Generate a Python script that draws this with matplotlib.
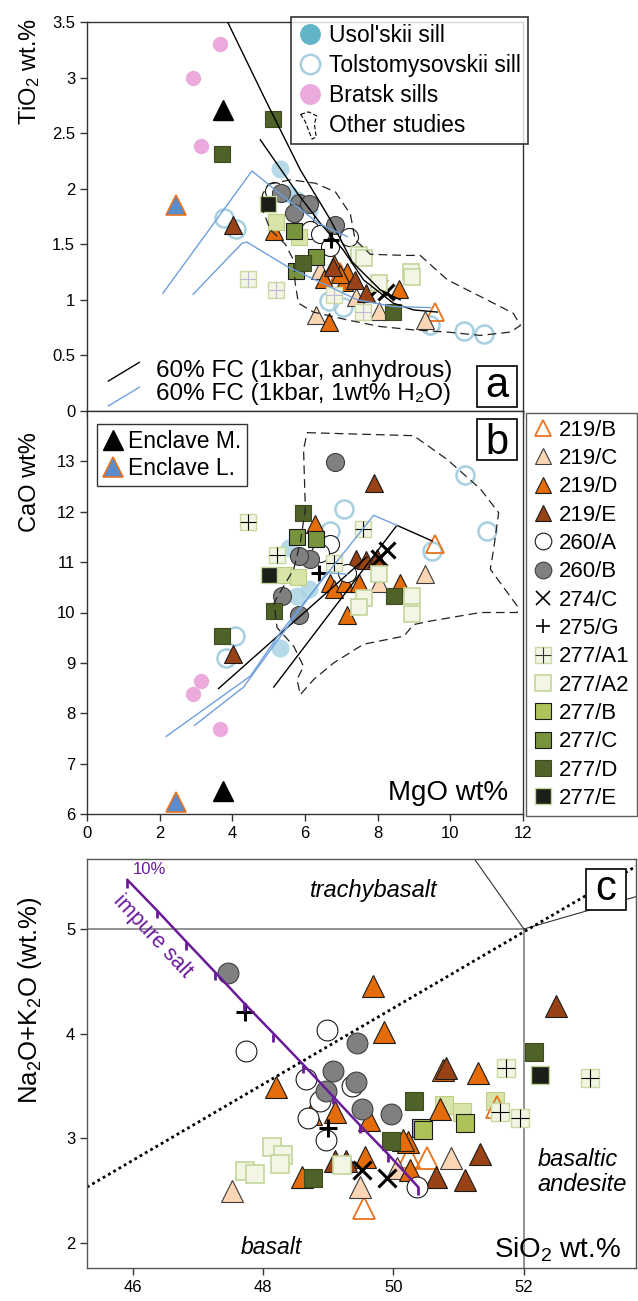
import numpy as np
import matplotlib
matplotlib.use("Agg")
import matplotlib.pyplot as plt
import matplotlib.patches as mpatches
from matplotlib.lines import Line2D
from matplotlib.legend_handler import HandlerPatch

plt.rcParams['font.family'] = ['Liberation Sans', 'DejaVu Sans']
plt.rcParams['mathtext.fontset'] = 'custom'
plt.rcParams['mathtext.rm'] = 'Liberation Sans'
plt.rcParams['mathtext.it'] = 'Liberation Sans:italic'
plt.rcParams['mathtext.default'] = 'regular'

# ---------------- panel a: MgO vs TiO2 ----------------
a_219B = [[9.59, 6.95], [0.89, 1.25]]
a_219C = [[6.40, 7.39, 8.05, 6.30, 9.29], [1.27, 1.03, 0.90, 0.86, 0.82]]
a_219D = [[5.16, 6.79, 6.51, 7.15, 7.06, 8.60, 6.65, 6.97], [1.62, 1.32, 1.19, 1.25, 1.16, 1.10, 0.80, 1.23]]
a_219E = [[4.01, 6.78, 7.37, 7.69], [1.67, 1.30, 1.18, 1.06]]
a_260A = [[5.15, 6.00, 6.15, 6.42, 6.70, 7.20], [1.98, 1.75, 1.63, 1.59, 1.48, 1.57]]
a_260B = [[5.35, 5.83, 6.10, 5.69, 6.82], [1.96, 1.87, 1.86, 1.78, 1.67]]
a_274C = [[8.03, 8.24], [1.12, 1.07]]
a_275G = [[6.72], [1.54]]
a_277A1 = [[4.43, 5.21, 6.79, 7.60], [1.19, 1.09, 1.04, 0.89]]
a_277A2 = [[7.50, 7.62, 8.05, 8.93, 8.95], [1.40, 1.38, 1.15, 1.25, 1.21]]
a_277B = [[5.19, 5.83], [1.70, 1.57]]
a_277C = [[5.71, 6.30, 5.75], [1.62, 1.39, 1.26]]
a_277D = [[5.11, 3.72, 5.95, 8.42], [2.63, 2.31, 1.33, 0.89]]
a_277E = [[4.98], [1.86]]
a_usol = [[5.30, 5.55, 5.78, 6.10], [2.18, 1.95, 1.90, 1.80]]
a_tolst = [[3.76, 4.11, 6.65, 7.05, 9.45, 10.37, 10.94], [1.74, 1.64, 0.99, 0.94, 0.77, 0.72, 0.69]]
a_bratsk = [[3.67, 2.93, 3.15], [3.30, 3.00, 2.38]]
a_encM = [[3.73], [2.71]]
a_encL = [[2.45], [1.85]]

a_fc_dry1 = [[3.84, 4.91, 5.87, 6.70, 7.30, 8.07, 8.62], [3.52, 2.80, 2.17, 1.72, 1.34, 1.09, 1.00]]
a_fc_dry2 = [[4.77, 5.79, 6.42, 7.05, 7.61, 8.43, 8.98, 9.64], [2.44, 1.96, 1.69, 1.45, 1.18, 0.97, 0.91, 0.89]]
a_fc_wet1 = [[2.09, 4.54, 5.40, 6.42, 7.16], [1.06, 2.16, 1.93, 1.68, 1.57]]
a_fc_wet2 = [[2.92, 4.27, 4.40, 5.51, 7.44, 8.43, 9.45], [1.05, 1.51, 1.52, 1.30, 1.00, 0.94, 0.93]]
a_other = [[5.00, 5.60, 6.28, 6.84, 7.25, 7.38, 7.80, 8.76, 9.17, 9.92, 10.83, 11.73, 11.93, 11.65,
            10.83, 9.92, 8.98, 8.07, 7.16, 6.23, 5.82, 5.73, 5.68, 5.46, 5.05, 4.83, 4.83, 5.00],
           [2.04, 2.08, 2.05, 1.97, 1.77, 1.54, 1.41, 1.40, 1.40, 1.18, 1.03, 0.88, 0.77, 0.71,
            0.68, 0.71, 0.73, 0.76, 0.82, 0.89, 0.97, 1.15, 1.36, 1.50, 1.63, 1.81, 1.95, 2.04]]

# ---------------- panel b: MgO vs CaO ----------------
b_219B = [[9.59], [11.35]]
b_219C = [[9.31, 8.03], [10.76, 10.59]]
b_219D = [[6.28, 6.70, 6.81, 7.11, 7.48, 7.16, 8.62], [11.75, 10.59, 10.46, 10.59, 10.59, 9.96, 10.59]]
b_219E = [[7.89, 7.41, 7.69, 7.98, 4.01], [12.58, 11.06, 11.04, 11.09, 9.17]]
b_260A = [[6.70, 6.42, 7.16], [11.35, 11.19, 10.79]]
b_260B = [[6.83, 6.15, 5.83, 5.37, 5.83], [12.99, 11.06, 11.12, 10.33, 9.96]]
b_274C = [[8.26, 8.03], [11.25, 11.09]]
b_275G = [[6.38], [10.79]]
b_277A1 = [[4.43, 7.60, 5.23, 6.79], [11.80, 11.65, 11.14, 10.99]]
b_277A2 = [[8.05, 8.95, 8.95, 7.62, 7.48], [10.76, 10.33, 9.98, 10.29, 10.10]]
b_277B = [[5.46, 5.82], [10.74, 10.71]]
b_277C = [[5.78, 6.31], [11.49, 11.45]]
b_277D = [[5.94, 8.44, 5.14, 3.72], [11.97, 10.33, 10.03, 9.54]]
b_277E = [[5.02], [10.74]]
b_usol = [[5.55, 5.78, 6.10, 5.32], [11.29, 10.33, 10.46, 9.30]]
b_tolst = [[10.41, 7.06, 11.01, 9.50, 6.70, 4.08, 3.83], [12.73, 12.06, 11.62, 11.22, 11.62, 9.53, 9.10]]
b_bratsk = [[3.15, 2.93, 3.67], [8.65, 8.39, 7.69]]
b_encM = [[3.73], [6.45]]
b_encL = [[2.45], [6.23]]

b_fc_dry1 = [[3.62, 7.70], [8.49, 11.10]]
b_fc_dry2 = [[5.14, 8.53, 9.50], [8.52, 11.73, 11.42]]
b_fc_wet1 = [[2.18, 4.50, 5.32, 7.89, 8.53], [7.54, 8.74, 9.60, 11.93, 11.73]]
b_fc_wet2 = [[2.96, 4.31, 6.60, 7.16], [7.76, 8.52, 10.79, 10.76]]
b_other = [[6.06, 8.99, 9.91, 10.83, 11.33, 11.19, 11.10, 11.84, 11.84, 10.83, 9.45, 8.99, 8.72, 7.61,
            6.79, 6.24, 5.87, 5.78, 5.96, 5.69, 5.23, 5.15, 5.69, 5.87, 6.01, 5.96, 6.06],
           [13.57, 13.51, 13.04, 12.45, 11.98, 11.25, 10.86, 10.13, 10.00, 10.00, 9.83, 9.76, 9.53, 9.37,
            9.00, 8.67, 8.37, 8.67, 8.93, 9.33, 9.70, 10.20, 10.86, 11.39, 12.05, 13.24, 13.57]]

# ---------------- panel c: SiO2 vs Na2O+K2O ----------------
c_219B = [[51.59, 50.52, 50.24, 49.55], [3.30, 2.81, 2.82, 2.33]]
c_219C = [[47.52, 49.49, 50.88, 50.05], [2.49, 2.53, 2.81, 2.71]]
c_219D = [[49.69, 49.86, 48.20, 48.73, 49.10, 49.63, 50.71, 51.29, 50.76, 50.23, 50.15, 49.56, 50.25, 48.59],
          [4.45, 4.01, 3.49, 3.23, 3.25, 3.17, 3.28, 3.62, 3.65, 2.96, 2.98, 2.82, 2.69, 2.63]]
c_219E = [[52.49, 51.33, 50.66, 51.09, 49.10, 49.27, 50.80], [4.26, 2.85, 2.63, 2.60, 2.78, 2.78, 3.67]]
c_260A = [[48.98, 47.74, 48.66, 49.36, 48.87, 48.69, 48.97, 50.36], [4.03, 3.83, 3.56, 3.50, 3.35, 3.19, 2.98, 2.53]]
c_260B = [[47.47, 49.44, 49.08, 49.42, 48.97, 49.51, 49.97], [4.58, 3.91, 3.64, 3.54, 3.45, 3.28, 3.23]]
c_274C = [[49.51, 49.90], [2.69, 2.62]]
c_275G = [[47.73, 48.99], [4.21, 3.10]]
c_277A1 = [[51.72, 51.94, 53.02, 51.63], [3.67, 3.19, 3.57, 3.25]]
c_277A2 = [[48.13, 48.30, 48.26, 47.72, 47.88, 49.21], [2.91, 2.84, 2.75, 2.68, 2.66, 2.74]]
c_277B_pale = [[50.78, 51.05, 51.56], [3.32, 3.25, 3.35]]
c_277B = [[50.42, 50.46, 51.10], [3.10, 3.08, 3.14]]
c_277D = [[52.16, 50.32, 49.97, 48.77], [3.82, 3.35, 2.97, 2.62]]
c_277E = [[52.25], [3.60]]

c_mix_sio2 = [45.92, 46.37, 46.82, 47.26, 47.71, 48.16, 48.62, 49.07, 49.49, 49.91, 50.38]
c_mix_alk = [5.47, 5.18, 4.88, 4.59, 4.29, 4.00, 3.70, 3.40, 3.12, 2.85, 2.53]
c_alk_divide = [[45.30, 53.72], [2.53, 5.60]]
tas_basalt_top = [[45.0, 52.0], [5.0, 5.0]]
tas_basalt_right = [[52.0, 52.0], [0.0, 5.0]]
tas_up_left = [[52.0, 49.4], [5.0, 7.3]]
tas_up_right = [[52.0, 57.0], [5.0, 5.9]]

GROUPS = ['219/B', '219/C', '219/D', '219/E', '260/A', '260/B', '274/C', '275/G',
          '277/A1', '277/A2', '277/B', '277/C', '277/D', '277/E']

STYLE = {
    '219/B': dict(marker='^', mfc='none', mec='#e8731f', mew=1.3),
    '219/C': dict(marker='^', mfc='#fcd5b5', mec='#3a3a3a', mew=0.8),
    '219/D': dict(marker='^', mfc='#e46c0a', mec='#1a1a1a', mew=0.8),
    '219/E': dict(marker='^', mfc='#984215', mec='#1a1a1a', mew=0.8),
    '260/A': dict(marker='o', mfc='white', mec='#1a1a1a', mew=0.8),
    '260/B': dict(marker='o', mfc='#808080', mec='#404040', mew=0.8),
    '274/C': dict(marker='x', color='black', mew=2.2),
    '275/G': dict(marker='+', color='black', mew=2.2),
    '277/A1': dict(marker='s', mfc='#f2f5e2', mec='#c9dba2', mew=1.0),
    '277/A2': dict(marker='s', mfc='#f3f6e5', mec='#c3d69b', mew=1.2),
    '277/B': dict(marker='s', mfc='#aec25a', mec='#1a1a1a', mew=0.8),
    '277/C': dict(marker='s', mfc='#77933c', mec='#1a1a1a', mew=0.8),
    '277/D': dict(marker='s', mfc='#4f6228', mec='#3d4b1f', mew=0.8),
    '277/E': dict(marker='s', mfc='#1b1f17', mec='#c3d69b', mew=1.0),
}


def draw_group(ax, key, pts, ms, cross='black', **extra):
    st = dict(STYLE[key])
    st.update(extra)
    size = ms * 0.85 if st['marker'] in ('x', '+') else ms
    if st['marker'] == 's':
        size = ms * 0.9
    ax.plot(pts[0], pts[1], ls='none', ms=size, zorder=3, **st)
    if key == '277/A1':
        ax.plot(pts[0], pts[1], ls='none', marker='+', ms=size, color=cross, mew=0.8, zorder=3)


def draw_sills(ax, usol, tolst, bratsk, ms):
    ax.plot(usol[0], usol[1], ls='none', marker='o', ms=ms, mfc='#a9d4e4', mec='none', alpha=0.85, zorder=2)
    ax.plot(tolst[0], tolst[1], ls='none', marker='o', ms=ms, mfc='none', mec='#a7cfe0', mew=1.8, zorder=3)
    ax.plot(bratsk[0], bratsk[1], ls='none', marker='o', ms=ms * 0.85, mfc='#eba9dc', mec='none', zorder=3)


def draw_enclaves(ax, encM, encL, ms):
    ax.plot(encM[0], encM[1], ls='none', marker='^', ms=ms, color='black', zorder=3)
    ax.plot(encL[0], encL[1], ls='none', marker='^', ms=ms, mfc='#5a8ccc', mec='#e8731f', mew=1.2, zorder=3)


def blob_patch(legend, orig_handle, xdescent, ydescent, width, height, fontsize):
    # irregular dashed outline used as the "Other studies" key
    u = np.array([0.10, 0.45, 0.80, 0.70, 0.78, 0.60, 0.42, 0.30, 0.10])
    v = np.array([1.10, 1.25, 1.00, 0.50, -0.30, -0.45, 0.20, 0.65, 1.10])
    return mpatches.Polygon(np.column_stack([u * width - xdescent, v * height - ydescent]), closed=True)


W, H = 638, 1301
fig = plt.figure(figsize=(W / 100, H / 100), dpi=100)
axa = fig.add_axes([87 / W, 1 - 411 / H, 436 / W, 389 / H])
axb = fig.add_axes([87 / W, 1 - 814 / H, 436 / W, 403 / H])
axc = fig.add_axes([87 / W, 1 - 1268 / H, 549 / W, 409 / H])


def panel_tag(letter, x0, y0, drop):
    # boxed panel letter, box given in figure pixels (top-left corner)
    fig.add_artist(mpatches.Rectangle((x0 / W, 1 - (y0 + 41) / H), 40 / W, 41 / H,
                                      transform=fig.transFigure, fc='white', ec='black', lw=1.2, zorder=2))
    fig.text((x0 + 20) / W, 1 - (y0 + 20.5 + drop) / H, letter, fontsize=30,
             ha='center', va='baseline', zorder=3)


for ax in (axa, axb, axc):
    for s in ax.spines.values():
        s.set_color('#333333')
        s.set_linewidth(1.0)
    ax.tick_params(direction='out', length=5, width=1, colors='#333333', labelcolor='black', labelsize=12)

# ---- panel a
A_DATA = {'219/B': a_219B, '219/C': a_219C, '219/D': a_219D, '219/E': a_219E, '260/A': a_260A,
          '260/B': a_260B, '274/C': a_274C, '275/G': a_275G, '277/A1': a_277A1, '277/A2': a_277A2,
          '277/B': a_277B, '277/C': a_277C, '277/D': a_277D, '277/E': a_277E}
draw_sills(axa, a_usol, a_tolst, a_bratsk, 13)
draw_enclaves(axa, a_encM, a_encL, 14)
for key in GROUPS:
    if key == '277/B':
        draw_group(axa, key, A_DATA[key], 13, mfc='#d8e4a8', mec='#b9cf85')
    else:
        draw_group(axa, key, A_DATA[key], 13, cross='#c4b4d8')
axa.plot(a_other[0], a_other[1], color='#222222', lw=0.9, ls=(0, (7, 4)), zorder=4)
for ln in (a_fc_dry1, a_fc_dry2):
    axa.plot(ln[0], ln[1], color='black', lw=1.0, zorder=5)
for ln in (a_fc_wet1, a_fc_wet2):
    axa.plot(ln[0], ln[1], color='#6fa0dc', lw=1.0, zorder=5)
axa.set_xlim(0, 12)
axa.set_ylim(0, 3.5)
axa.set_xticks(np.arange(0, 13, 2))
axa.set_xticklabels([])
axa.set_yticks(np.arange(0, 3.6, 0.5))
axa.set_yticklabels(['0', '0.5', '1', '1.5', '2', '2.5', '3', '3.5'])

# FC key, bottom-left of panel a
axa.plot([0.049, 0.120], [0.077, 0.125], transform=axa.transAxes, color='black', lw=1.0)
axa.plot([0.049, 0.120], [0.013, 0.061], transform=axa.transAxes, color='#6fa0dc', lw=1.0)
axa.text(0.158, 0.103, '60% FC (1kbar, anhydrous)', transform=axa.transAxes, fontsize=17.5, va='center')
axa.text(0.158, 0.044, '60% FC (1kbar, 1wt% H\u2082O)', transform=axa.transAxes, fontsize=17.5, va='center')

blob = mpatches.Polygon([[0, 0], [1, 0], [1, 1]], fill=False, ec='black', lw=0.8, ls=(0, (4, 2)))
sill_handles = [
    Line2D([], [], ls='none', marker='o', ms=14, mfc='#62b5c9', mec='#62b5c9'),
    Line2D([], [], ls='none', marker='o', ms=14, mfc='white', mec='#a7cfe0', mew=1.8),
    Line2D([], [], ls='none', marker='o', ms=14, mfc='#eba9dc', mec='#eba9dc'),
    blob,
]
leg_a = fig.legend(sill_handles, ["Usol'skii sill", 'Tolstomysovskii sill', 'Bratsk sills', 'Other studies'],
                   loc='upper left', bbox_to_anchor=(291 / W, 1 - 17 / H), fontsize=16.5, frameon=True,
                   fancybox=False, edgecolor='black', handlelength=1.0, handletextpad=0.35,
                   labelspacing=0.3, borderpad=0.32, borderaxespad=0,
                   handler_map={blob: HandlerPatch(patch_func=blob_patch)})
leg_a.get_frame().set_linewidth(1.2)

# ---- panel b
B_DATA = {'219/B': b_219B, '219/C': b_219C, '219/D': b_219D, '219/E': b_219E, '260/A': b_260A,
          '260/B': b_260B, '274/C': b_274C, '275/G': b_275G, '277/A1': b_277A1, '277/A2': b_277A2,
          '277/B': b_277B, '277/C': b_277C, '277/D': b_277D, '277/E': b_277E}
draw_sills(axb, b_usol, b_tolst, b_bratsk, 13)
draw_enclaves(axb, b_encM, b_encL, 14)
for key in GROUPS:
    if key == '277/B':
        draw_group(axb, key, B_DATA[key], 13, mfc='#d8e4a8', mec='#b9cf85')
    else:
        draw_group(axb, key, B_DATA[key], 13)
axb.plot(b_other[0], b_other[1], color='#222222', lw=0.9, ls=(0, (7, 4)), zorder=4)
for ln in (b_fc_dry1, b_fc_dry2):
    axb.plot(ln[0], ln[1], color='black', lw=1.0, zorder=5)
for ln in (b_fc_wet1, b_fc_wet2):
    axb.plot(ln[0], ln[1], color='#6fa0dc', lw=1.0, zorder=5)
axb.set_xlim(0, 12)
axb.set_ylim(6, 14)
axb.set_xticks(np.arange(0, 13, 2))
axb.set_yticks(np.arange(6, 14, 1))
axb.text(0.966, 0.052, 'MgO wt%', transform=axb.transAxes, fontsize=20, ha='right', va='center')

enc_handles = [Line2D([], [], ls='none', marker='^', ms=14, color='black'),
               Line2D([], [], ls='none', marker='^', ms=14, mfc='#5a8ccc', mec='#e8731f', mew=1.2)]
leg_e = axb.legend(enc_handles, ['Enclave M.', 'Enclave L.'], loc='upper left',
                   bbox_to_anchor=(97 / W, 1 - 424 / H), bbox_transform=fig.transFigure,
                   fontsize=16.5, fancybox=False, edgecolor='black', handlelength=0.9,
                   handletextpad=0.2, labelspacing=0.2, borderpad=0.25, borderaxespad=0)
leg_e.get_frame().set_linewidth(1.0)

grp_handles = []
for key in GROUPS:
    st = dict(STYLE[key])
    h = Line2D([], [], ls='none', ms=10 if st['marker'] in ('x', '+') else 12, **st)
    if key == '274/C' or key == '275/G':
        h.set_markeredgewidth(1.2)
    if key == '277/A1':
        h = (h, Line2D([], [], ls='none', marker='+', ms=12, color='#333333', mew=0.8))
    grp_handles.append(h)
leg_g = fig.legend(grp_handles, GROUPS, loc='upper left', bbox_to_anchor=(526 / W, 1 - 413 / H),
                   fontsize=16, fancybox=False, edgecolor='#333333', handlelength=0.9,
                   handletextpad=0.3, labelspacing=0.33, borderpad=0.3, borderaxespad=0)
leg_g.get_frame().set_linewidth(1.0)

# ---- panel c
for seg in (tas_basalt_top, tas_basalt_right):
    axc.plot(seg[0], seg[1], color='#808080', lw=1.2, zorder=1)
for seg in (tas_up_left, tas_up_right):
    axc.plot(seg[0], seg[1], color='#333333', lw=0.8, zorder=1)
axc.plot(c_alk_divide[0], c_alk_divide[1], color='black', lw=2.0, ls=(0, (1, 1.2)), zorder=1)

C_DATA = {'219/B': c_219B, '219/C': c_219C, '219/D': c_219D, '219/E': c_219E, '260/A': c_260A,
          '260/B': c_260B, '274/C': c_274C, '275/G': c_275G, '277/A1': c_277A1, '277/A2': c_277A2,
          '277/B': c_277B, '277/D': c_277D, '277/E': c_277E}
draw_group(axc, '277/B', c_277B_pale, 15, mfc='#d8e4a8', mec='#b9cf85')
for key in GROUPS:
    if key in C_DATA:
        draw_group(axc, key, C_DATA[key], 15.5 if key.startswith('219') else 15)

axc.plot(c_mix_sio2, c_mix_alk, color='#6a1b9a', lw=1.8, marker=3, ms=6, mew=2, zorder=5)
axc.text(46.0, 5.5, '10%', color='#6a1b9a', fontsize=12, ha='left', va='bottom')
axc.text(46.3, 4.93, 'impure salt', color='#6a1b9a', fontsize=15.5, rotation=-47,
         ha='center', va='center', rotation_mode='anchor')

axc.set_xlim(45.30, 53.72)
axc.set_ylim(1.756, 5.67)
axc.set_xticks([46, 48, 50, 52])
axc.set_yticks([2, 3, 4, 5])
for s in axc.spines.values():
    s.set_color('#555555')
axc.text(0.523, 0.924, 'trachybasalt', transform=axc.transAxes, fontsize=17, style='italic',
         ha='center', va='center')
axc.text(0.82, 0.235, 'basaltic\nandesite', transform=axc.transAxes, fontsize=17, style='italic',
         ha='left', va='center', linespacing=1.15)
axc.text(0.335, 0.049, 'basalt', transform=axc.transAxes, fontsize=16.5, style='italic',
         ha='center', va='center')
axc.text(0.973, 0.045, 'SiO$_2$ wt.%', transform=axc.transAxes, fontsize=20, ha='right', va='center')

# boxed panel letters
panel_tag('a', 477, 366, 11)
panel_tag('b', 477, 419, 15)
panel_tag('c', 586, 869, 11)

# axis titles (top-aligned like the original)
fig.text(30 / W, 1 - 18 / H, 'TiO$_2$ wt.%', rotation=90, ha='center', va='top', fontsize=17)
fig.text(30 / W, 1 - 432 / H, 'CaO wt%', rotation=90, ha='center', va='top', fontsize=17)
fig.text(30 / W, 1 - 1000 / H, 'Na$_2$O+K$_2$O (wt.%)', rotation=90, ha='center', va='center', fontsize=18.5)

fig.savefig('out.png', dpi=100)
